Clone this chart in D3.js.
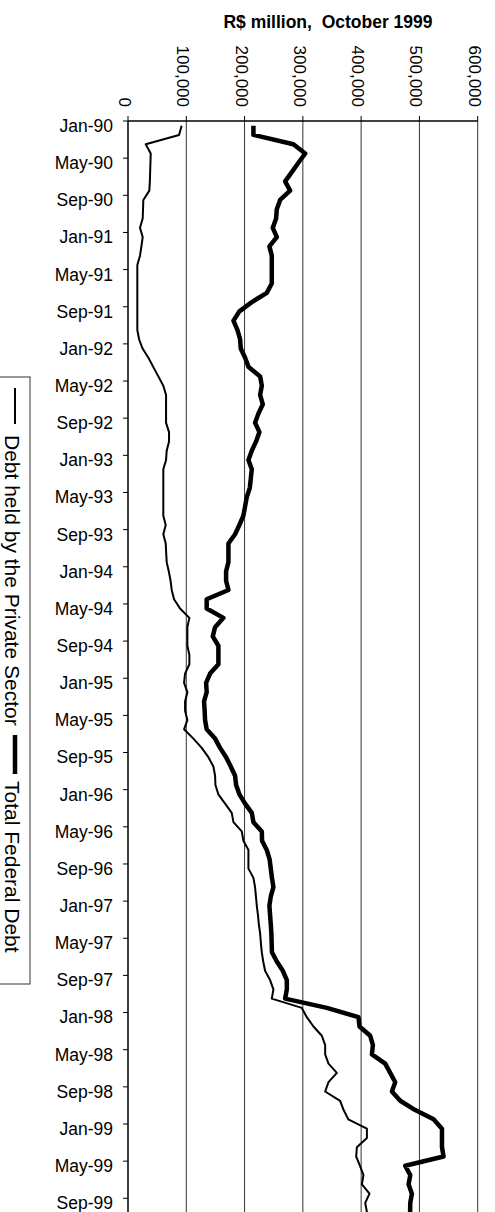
<!DOCTYPE html>
<html>
<head>
<meta charset="utf-8">
<script src="https://cdn.jsdelivr.net/npm/d3@7"></script>
<style>
  html, body { margin: 0; padding: 0; background: #fff; }
  svg { display: block; }
  text { font-family: "Liberation Sans", Arial, sans-serif; fill: #000; }
</style>
</head>
<body>
<script>
// ---- data ----
const startYear = 1990;
const monthNames = ["Jan","Feb","Mar","Apr","May","Jun","Jul","Aug","Sep","Oct","Nov","Dec"];
const nMonths = 118; // Jan-90 .. Oct-99
const categories = [];
for (let i = 0; i < nMonths; i++) {
  const yy = startYear + Math.floor(i / 12);
  categories.push(monthNames[i % 12] + "-" + String(yy).slice(2));
}

const tickLabels = ["Jan-90","May-90","Sep-90","Jan-91","May-91","Sep-91","Jan-92","May-92","Sep-92",
  "Jan-93","May-93","Sep-93","Jan-94","May-94","Sep-94","Jan-95","May-95","Sep-95",
  "Jan-96","May-96","Sep-96","Jan-97","May-97","Sep-97","Jan-98","May-98","Sep-98",
  "Jan-99","May-99","Sep-99"];

const valueTicks = [0, 100000, 200000, 300000, 400000, 500000, 600000];

const seriesNames = ["Debt held by the Private Sector", "Total Federal Debt"];

const privateDebt = [
  92000, 87600, 30400, 39000, 38500, 38000, 37500, 36600, 26300, 25800, 25200, 20600,
  25200, 23000, 20600, 16000, 16000, 16000, 16000, 16000, 16000, 16000, 16000, 19000,
  25000, 35000, 43500, 52000, 60600, 65300, 65300, 65300, 65300, 70400, 70400, 66400,
  65300, 60600, 60600, 60600, 60600, 60600, 60600, 64700, 60600, 64700, 65500, 66400,
  70000, 73000, 75000, 79000, 89300, 105300, 101900, 101900, 101900, 105300, 105300, 97900,
  96200, 101900, 97900, 97900, 101900, 96200, 112200, 126500, 137900, 146500, 149400, 150000,
  155000, 166600, 178000, 180900, 195200, 198000, 206600, 206600, 206600, 215200, 218000, 219500,
  221000, 223000, 224500, 226700, 228000, 229500, 232000, 235200, 243800, 249500, 246700, 298200,
  306800, 318200, 332600, 338300, 338300, 344000, 358300, 344000, 338300, 364000, 370000, 378000,
  409900, 409900, 392700, 391500, 398000, 404000, 401300, 414400, 407000, 410000
];

const totalDebt = [
  215200, 215200, 283800, 304000, 292400, 281000, 269600, 278200, 261000, 255300, 254100, 248400,
  255300, 242600, 246700, 246700, 246700, 246700, 238100, 212400, 191100, 180900, 187700, 192300,
  193500, 200900, 207000, 226700, 229600, 226700, 231300, 223800, 218000, 225500, 219800, 212400,
  206600, 212400, 210700, 209000, 203800, 200900, 198000, 191100, 183700, 172300, 172300, 172300,
  168300, 168300, 172300, 135000, 135000, 163700, 149400, 145400, 155100, 155100, 155100, 140800,
  134000, 135000, 130500, 131500, 132200, 135000, 149400, 158000, 168300, 176300, 183700, 185500,
  191100, 200900, 212400, 215200, 229600, 230000, 238100, 243000, 245000, 247000, 249500, 245000,
  242600, 243800, 245000, 246000, 246500, 247000, 255300, 265600, 272500, 272500, 269600, 341200,
  395500, 397200, 415600, 420200, 418500, 441300, 449900, 458500, 452800, 467100, 492800, 524300,
  538700, 538700, 538700, 541400, 475700, 484300, 481400, 487100, 484300, 484000
];

// ---- drawing ----
const W = 495, H = 1212;
const svg = d3.select("body").append("svg").attr("width", W).attr("height", H);

const plotTop = 121, monthH = 9.287;
const x = d3.scaleLinear().domain([0, 600000]).range([128, 477.7]);
const y = d3.scaleBand().domain(categories).range([plotTop, plotTop + nMonths * monthH]).padding(0);
const bw = y.bandwidth();

// gridlines
svg.append("g").selectAll("line").data(valueTicks.slice(1)).join("line")
  .attr("x1", d => x(d)).attr("x2", d => x(d))
  .attr("y1", plotTop).attr("y2", H + 10)
  .attr("stroke", "#333").attr("stroke-width", 1);

// top value axis
const gTop = svg.append("g");
gTop.append("line").attr("x1", x(0)).attr("x2", x(600000)).attr("y1", plotTop).attr("y2", plotTop)
  .attr("stroke", "#000").attr("stroke-width", 1.5);
gTop.selectAll("line.tk").data(valueTicks).join("line").attr("class", "tk")
  .attr("x1", d => x(d)).attr("x2", d => x(d)).attr("y1", plotTop - 5).attr("y2", plotTop)
  .attr("stroke", "#000").attr("stroke-width", 1);
gTop.selectAll("text").data(valueTicks).join("text")
  .attr("transform", d => `translate(${x(d) - 3},107) rotate(90)`)
  .attr("text-anchor", "end").attr("dy", "0.35em")
  .style("font-size", "17px")
  .text(d => d3.format(",")(d));

// title
svg.append("text").attr("x", 328).attr("y", 28).attr("text-anchor", "middle")
  .style("font-size", "17.5px").style("font-weight", "bold").style("white-space", "pre")
  .attr("xml:space", "preserve")
  .text("R$ million,  October 1999");

// left category axis
const gLeft = svg.append("g");
gLeft.append("line").attr("x1", x(0)).attr("x2", x(0)).attr("y1", plotTop).attr("y2", H + 10)
  .attr("stroke", "#000").attr("stroke-width", 1.5);
gLeft.selectAll("line.tk").data(tickLabels).join("line").attr("class", "tk")
  .attr("x1", x(0) - 5).attr("x2", x(0))
  .attr("y1", d => y(d)).attr("y2", d => y(d))
  .attr("stroke", "#000").attr("stroke-width", 1);
gLeft.selectAll("text").data(tickLabels).join("text")
  .attr("x", 113).attr("y", d => y(d) + bw / 2).attr("dy", "0.36em")
  .attr("text-anchor", "end").style("font-size", "17.5px")
  .text(d => d);

// series lines
const line = d3.line().x(d => x(d.v)).y(d => y(d.c) + bw / 2);
const privPts = categories.map((c, i) => ({ c, v: privateDebt[i] }));
const totPts = categories.map((c, i) => ({ c, v: totalDebt[i] }));
svg.append("path").attr("d", line(privPts)).attr("fill", "none")
  .attr("stroke", "#000").attr("stroke-width", 2).attr("stroke-linejoin", "round");
svg.append("path").attr("d", line(totPts)).attr("fill", "none")
  .attr("stroke", "#000").attr("stroke-width", 4.5).attr("stroke-linejoin", "round");

// legend
const lg = svg.append("g");
lg.append("rect").attr("x", -1).attr("y", 377).attr("width", 31).attr("height", 607)
  .attr("fill", "#fff").attr("stroke", "#333").attr("stroke-width", 1);
lg.append("line").attr("x1", 15).attr("x2", 15).attr("y1", 388).attr("y2", 424)
  .attr("stroke", "#000").attr("stroke-width", 2);
lg.append("text").attr("transform", "translate(5,435) rotate(90)")
  .style("font-size", "21px").text(seriesNames[0]);
lg.append("line").attr("x1", 15).attr("x2", 15).attr("y1", 735).attr("y2", 774)
  .attr("stroke", "#000").attr("stroke-width", 4.5);
lg.append("text").attr("transform", "translate(5,781) rotate(90)")
  .style("font-size", "21px").text(seriesNames[1]);
</script>
</body>
</html>
